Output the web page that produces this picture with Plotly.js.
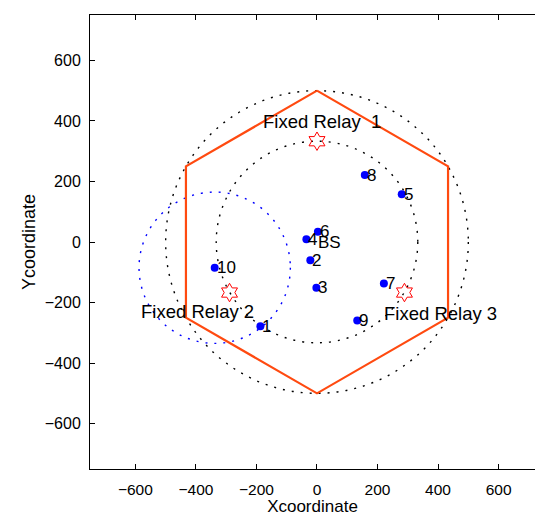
<!DOCTYPE html>
<html>
<head>
<meta charset="utf-8">
<script src="https://cdn.plot.ly/plotly-3.0.1.min.js"></script>
<style>html,body{margin:0;padding:0;background:#fff;}#chart{width:535px;height:515px;}</style>
</head>
<body>
<div id="chart"></div>
<script>
// Cell boundary (hexagon vertices)
const hexX = [0, 433, 433, 0, -433, -433, 0];
const hexY = [500, 250, -250, -500, -250, 250, 500];

// Fixed relays
const relayX = [0, -289, 289];
const relayY = [333, -167, -167];
const relayLabels = ['Fixed Relay\u00a0\u00a01', 'Fixed Relay 2', 'Fixed Relay 3'];
const relayLabelX = [-184, -588, 216];
const relayLabelY = [398, -228, -237];

// Base station
const bsX = [0];
const bsY = [0];
const bsLabel = ['BS'];

// Users
const userIds = ['1', '2', '3', '4', '5', '6', '7', '8', '9', '10'];
const userX = [-187, -22, -2, -35, 280, 3, 221, 158, 133, -338];
const userY = [-278, -60, -151, 9, 158, 34, -137, 221, -259, -85];

// Coverage circles: centre and radius
const circleCX = [0, 0, -338];
const circleCY = [0, 0, -85];
const circleR = [500, 333, 250];
const circleColor = ['#000000', '#000000', '#0000ff'];

const xTicks = [-600, -400, -200, 0, 200, 400, 600];
const yTicks = [-600, -400, -200, 0, 200, 400, 600];

const FONT = 'Liberation Sans, Arial, Helvetica, sans-serif';

const traces = [
  {
    x: hexX, y: hexY, mode: 'lines', type: 'scatter',
    line: {color: '#ff4a10', width: 2.2}, hoverinfo: 'skip', showlegend: false
  },
  {
    x: relayX, y: relayY, mode: 'markers', type: 'scatter',
    marker: {symbol: 'hexagram-open', size: 14, color: '#ff0000', line: {width: 1, color: '#ff0000'}},
    showlegend: false
  },
  {
    x: userX, y: userY, mode: 'markers', type: 'scatter',
    marker: {symbol: 'circle', size: 8, color: '#0000ff'},
    showlegend: false
  }
];

const shapes = circleR.map((r, i) => ({
  type: 'circle', xref: 'x', yref: 'y',
  x0: circleCX[i] - r, x1: circleCX[i] + r,
  y0: circleCY[i] - r, y1: circleCY[i] + r,
  line: {color: circleColor[i], width: 1.4, dash: '2px,7px'},
  layer: 'below'
}));

const annotations = [];
relayLabels.forEach((t, i) => annotations.push({
  x: relayLabelX[i], y: relayLabelY[i], text: t, showarrow: false,
  xanchor: 'left', yanchor: 'middle', font: {family: FONT, size: 18.5, color: '#000'}
}));
userIds.forEach((t, i) => annotations.push({
  x: userX[i], y: userY[i], text: t, showarrow: false,
  xanchor: 'left', yanchor: 'middle', xshift: 0,
  font: {family: FONT, size: 17, color: '#000'}
}));
bsLabel.forEach((t, i) => annotations.push({
  x: bsX[i], y: bsY[i], text: t, showarrow: false,
  xanchor: 'left', yanchor: 'middle', xshift: -1,
  font: {family: FONT, size: 17, color: '#000'}
}));

const layout = {
  width: 535, height: 515,
  margin: {l: 90, r: 0, t: 15, b: 46, pad: 0},
  paper_bgcolor: '#ffffff', plot_bgcolor: '#ffffff',
  font: {family: FONT, size: 16, color: '#000'},
  showlegend: false,
  xaxis: {
    range: [-750, 720.3], tickvals: xTicks, ticktext: xTicks.map(v => v < 0 ? '\u2212' + Math.abs(v) : String(v)),
    ticks: 'inside', ticklen: 5, tickwidth: 1, tickcolor: '#000',
    showline: true, linecolor: '#000', linewidth: 1, mirror: 'ticks',
    showgrid: false, zeroline: false, ticklabelstandoff: 6,
    tickfont: {family: FONT, size: 15.5}, automargin: false,
    title: {text: 'Xcoordinate', font: {family: FONT, size: 17}}
  },
  yaxis: {
    range: [-750, 750], tickvals: yTicks, ticktext: yTicks.map(v => v < 0 ? '\u2212' + Math.abs(v) : String(v)),
    ticks: 'inside', ticklen: 5, tickwidth: 1, tickcolor: '#000',
    showline: true, linecolor: '#000', linewidth: 1, mirror: false,
    showgrid: false, zeroline: false, ticklabelstandoff: 5,
    tickfont: {family: FONT, size: 16},
    title: {text: 'Ycoordinate', font: {family: FONT, size: 18}}
  },
  shapes: shapes,
  annotations: annotations
};

Plotly.newPlot('chart', traces, layout, {displayModeBar: false, staticPlot: true}).then(gd => {
  // nudge the axis titles a few pixels, as in the reference
  const tx = gd.querySelector('.g-xtitle text');
  if (tx) tx.setAttribute('y', parseFloat(tx.getAttribute('y')) + 1);
  const ty = gd.querySelector('.g-ytitle text');
  if (ty) {
    const x = parseFloat(ty.getAttribute('x'));
    const y = parseFloat(ty.getAttribute('y'));
    ty.setAttribute('x', x - 9);
    ty.setAttribute('transform', 'rotate(-90,' + (x - 9) + ',' + y + ')');
  }
});
</script>
</body>
</html>
